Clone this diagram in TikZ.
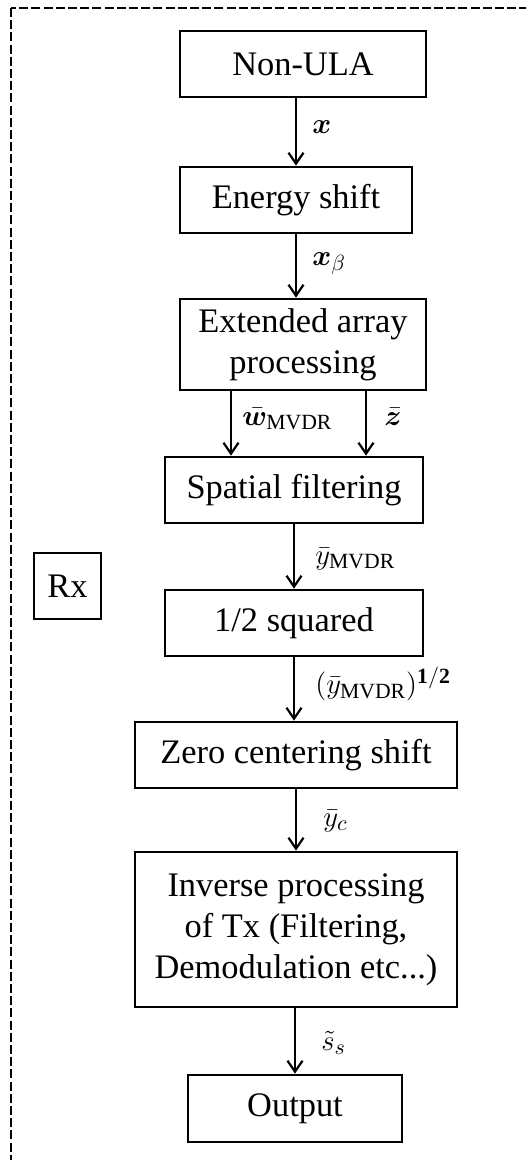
\documentclass[tikz,border=0pt]{standalone}
\usepackage{fontspec}
\usepackage{amsmath,amssymb,bm}
\setmainfont{Liberation Serif}
\usetikzlibrary{arrows.meta}
\tikzset{
  blk/.style={draw, line width=1.35pt, inner sep=0pt, align=center,
    font=\fontsize{17.2}{20.6}\selectfont},
  arr/.style={line width=1.1pt, -{Straight Barb[length=5.5pt,width=7.5pt,line width=1.1pt]}},
  lbl/.style={anchor=west, inner sep=0pt, font=\fontsize{15.5}{17}\selectfont},
  border/.style={line width=1.3pt, dash pattern=on 4.5pt off 1.6pt}
}
\begin{document}
\begin{tikzpicture}[x=0.5pt,y=-0.5pt]
\useasboundingbox (0,0) rectangle (526,1160);
\begin{scope}
\clip (0,0) rectangle (526,1160);
\draw[border] (11,8) rectangle (560,1200);
\end{scope}

\node[blk, minimum width=123pt, minimum height=33pt] (nonula) at (303,64) {Non-ULA};
\node[blk, minimum width=116pt, minimum height=33pt] (energy) at (296,200) {Energy shift};
\node[blk, minimum width=123pt, minimum height=45.5pt] (ext) at (303,344.5) {Extended array\\processing};
\node[blk, minimum width=129pt, minimum height=33pt] (spatial) at (294,490) {Spatial filtering};
\node[blk, minimum width=129pt, minimum height=33pt] (half) at (294,623) {1/2 squared};
\node[blk, minimum width=161pt, minimum height=33pt] (zero) at (296,755) {Zero centering shift};
\node[blk, minimum width=161pt, minimum height=77.5pt] (inv) at (296,929.5) {Inverse processing\\of Tx (Filtering,\\Demodulation etc...)};
\node[blk, minimum width=107pt, minimum height=33.5pt] (output) at (295,1108.5) {Output};
\node[blk, minimum width=33.5pt, minimum height=33pt] (rx) at (67.5,586) {Rx};

\coordinate (p1) at (231,0);
\coordinate (p2) at (366,0);

\draw[arr] (nonula.south -| energy.north) -- (energy.north);
\draw[arr] (energy.south) -- (energy.south |- ext.north);
\draw[arr] (ext.south -| p1) -- (spatial.north -| p1);
\draw[arr] (ext.south -| p2) -- (spatial.north -| p2);
\draw[arr] (spatial.south) -- (half.north);
\draw[arr] (half.south) -- (half.south |- zero.north);
\draw[arr] (zero.south) -- (inv.north);
\draw[arr] (inv.south -| output.north) -- (output.north);

\node[lbl] (lx) at (312,127) {$\bm{x}$};
\node[lbl] (lxb) at (312,264) {$\bm{x}_{\beta}$};
\node[lbl] (lw) at (242,419) {$\bar{\bm{w}}_{\mathrm{MVDR}}$};
\node[lbl] (lz) at (384,417) {$\bar{\bm{z}}$};
\node[lbl] (ly) at (315,559) {$\bar{y}_{\mathrm{MVDR}}$};
\node[lbl] (lyh) at (315,684) {$(\bar{y}_{\mathrm{MVDR}})^{\mathbf{1/2}}$};
\node[lbl] (lyc) at (323,821) {$\bar{y}_{c}$};
\node[lbl] (ls) at (321,1043) {$\tilde{s}_{s}$};
\end{tikzpicture}
\end{document}
